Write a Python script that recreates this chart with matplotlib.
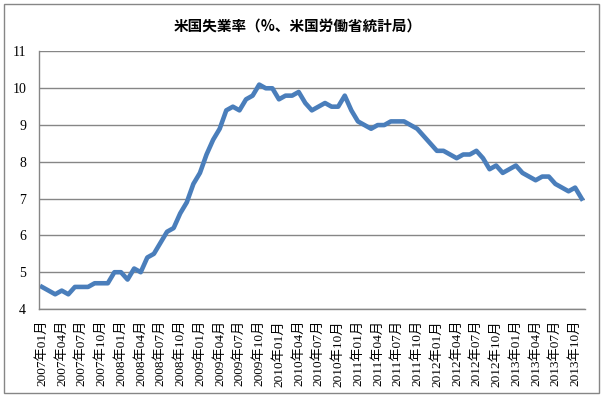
import matplotlib
matplotlib.use("Agg")
import matplotlib.pyplot as plt
from matplotlib.patches import Rectangle

# monthly US unemployment rate, 2007-01 .. 2013-11
years = [2007, 2008, 2009, 2010, 2011, 2012, 2013]
rate = [
    4.6, 4.5, 4.4, 4.5, 4.4, 4.6, 4.6, 4.6, 4.7, 4.7, 4.7, 5.0,
    5.0, 4.8, 5.1, 5.0, 5.4, 5.5, 5.8, 6.1, 6.2, 6.6, 6.9, 7.4,
    7.7, 8.2, 8.6, 8.9, 9.4, 9.5, 9.4, 9.7, 9.8, 10.1, 10.0, 10.0,
    9.7, 9.8, 9.8, 9.9, 9.6, 9.4, 9.5, 9.6, 9.5, 9.5, 9.8, 9.4,
    9.1, 9.0, 8.9, 9.0, 9.0, 9.1, 9.1, 9.1, 9.0, 8.9, 8.7, 8.5,
    8.3, 8.3, 8.2, 8.1, 8.2, 8.2, 8.3, 8.1, 7.8, 7.9, 7.7, 7.8,
    7.9, 7.7, 7.6, 7.5, 7.6, 7.6, 7.4, 7.3, 7.2, 7.3, 7.0,
]
month_labels = [f"{y}年{m:02d}月" for y in years for m in range(1, 13)][:len(rate)]
title = "米国失業率（%、米国労働省統計局）"

tick_font = ["Liberation Serif", "Noto Sans CJK JP"]

fig = plt.figure(figsize=(6.06, 3.98), dpi=100)
fig.patches.append(Rectangle((4 / 606, 1 - 393 / 398), 595 / 606, 389 / 398,
                             transform=fig.transFigure, fill=False,
                             edgecolor="#868686", linewidth=1.0))

ax = fig.add_axes([38.7 / 606, 1 - 309 / 398, (585 - 38.7) / 606, (309 - 51.5) / 398])
x = list(range(len(rate)))
ax.plot(x, rate, color="#4A7EBB", linewidth=3.3, solid_joinstyle="round")

ax.set_xlim(-0.5, len(rate) - 0.5)
ax.set_ylim(4, 11)
ax.set_yticks(range(4, 12))
ax.set_xticks(x[::3])
ax.set_xticklabels(month_labels[::3], rotation=90, family=tick_font,
                   fontsize=9.5, va="top", ha="center")
for lab in ax.get_yticklabels():
    lab.set_family(tick_font)
    lab.set_fontsize(10)
ax.tick_params(axis="both", length=0)
ax.tick_params(axis="y", pad=9)
ax.tick_params(axis="x", pad=8)

ax.grid(axis="y", color="#868686", linewidth=1.0)
ax.set_axisbelow(True)
for side in ("top", "right"):
    ax.spines[side].set_visible(False)
for side in ("left", "bottom"):
    ax.spines[side].set_color("#868686")
    ax.spines[side].set_linewidth(1.0)

fig.text(298 / 606, 1 - 27 / 398, title, ha="center", va="center",
         fontsize=10.5, fontweight="bold", family=["Noto Sans CJK JP", "DejaVu Sans"])

fig.savefig("out.png", dpi=100)
